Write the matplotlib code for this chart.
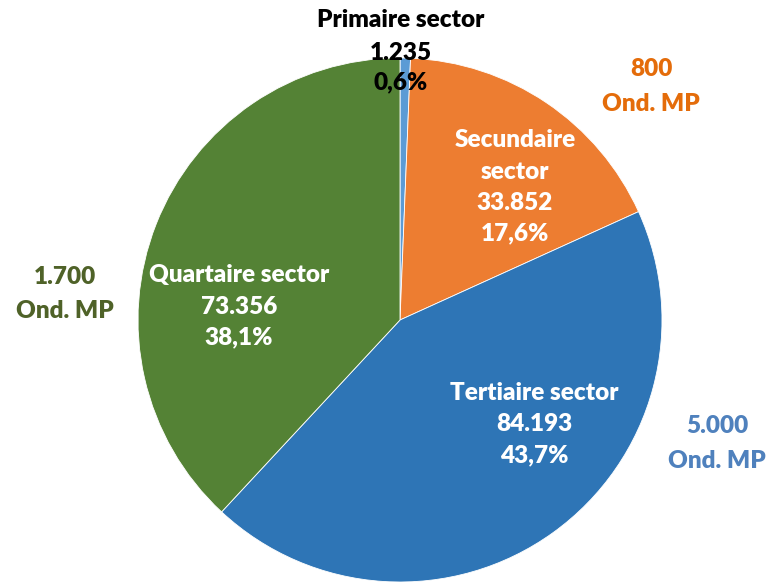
import matplotlib
matplotlib.use('Agg')
import matplotlib.pyplot as plt

# data
sectors = ['Primaire sector', 'Secundaire sector', 'Tertiaire sector', 'Quartaire sector']
jobs = [1235, 33852, 84193, 73356]
mp_labels = ['', '800', '5.000', '1.700']   # Ond. MP per sector

slice_colors = ['#5B9BD5', '#ED7D31', '#2E75B6', '#548235']
label_colors = ['black', 'white', 'white', 'white']
mp_colors = ['', '#E46C0A', '#4F81BD', '#4F6228']

W, H = 773, 582
fig = plt.figure(figsize=(W / 100, H / 100), dpi=100)
ax = fig.add_axes([0, 0, 1, 1])

# pie centre / radius in pixel units (y measured from bottom)
cx, cy, r = 400, H - 320, 262
ax.pie(jobs, colors=slice_colors, startangle=90, counterclock=False,
       center=(cx, cy), radius=r, frame=True,
       wedgeprops=dict(edgecolor='white', linewidth=0.6))
ax.set_xlim(0, W)
ax.set_ylim(0, H)
ax.set_aspect('equal')
ax.axis('off')

FONT = 'Lato'
FS = 17.5
WEIGHT = 'heavy'

def nl(v):
    return f"{v:,}".replace(",", ".")

total = sum(jobs)
pcts = [f"{100 * v / total:.1f}%".replace(".", ",") for v in jobs]

# label block positions (pixel x, list of pixel y per line)
label_pos = [
    (401, [20, 53, 82]),
    (515, [140, 172, 203, 233]),
    (534, [393, 424, 455]),
    (239, [275, 307, 337]),
]
for i, name in enumerate(sectors):
    if i == 1:
        lines = ['Secundaire', 'sector', nl(jobs[i]), pcts[i]]
    else:
        lines = [name, nl(jobs[i]), pcts[i]]
    x, ys = label_pos[i]
    for txt, y in zip(lines, ys):
        ax.text(x, H - y, txt, ha='center', va='center', fontsize=FS,
                fontweight=WEIGHT, family=FONT, color=label_colors[i])

# "Ond. MP" annotations outside the pie
mp_pos = [None, (651, [69, 104]), (717, [426, 461]), (65, [277, 311])]
for i, mp in enumerate(mp_labels):
    if not mp:
        continue
    x, ys = mp_pos[i]
    for txt, y in zip([mp, 'Ond. MP'], ys):
        ax.text(x, H - y, txt, ha='center', va='center', fontsize=FS,
                fontweight=WEIGHT, family=FONT, color=mp_colors[i])

fig.savefig('out.png', dpi=100)
